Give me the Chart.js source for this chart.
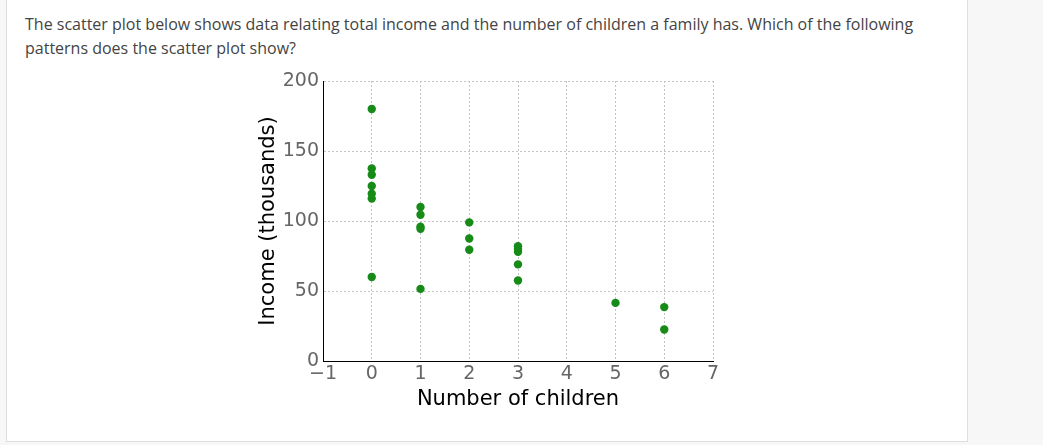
<!DOCTYPE html>
<html>
<head>
<meta charset="utf-8">
<script src="https://cdn.jsdelivr.net/npm/chart.js@4/dist/chart.umd.min.js"></script>
<style>
    html, body {
        margin: 0;
        padding: 0;
        background: #f7f7f7;
        width: 1043px;
        height: 445px;
        overflow: hidden;
    }
    .panel {
        position: absolute;
        left: 6px;
        top: -1px;
        width: 960px;
        height: 441px;
        background: #fff;
        border: 1px solid #dedede;
    }
    .question {
        position: absolute;
        left: 18px;
        top: 12px;
        font-family: "Open Sans", sans-serif;
        font-size: 16px;
        line-height: 24px;
        color: #444;
        white-space: nowrap;
    }
    .chart-box {
        position: absolute;
        left: 240px;
        top: 60px;
        width: 500px;
        height: 360px;
    }
</style>
</head>
<body>
<div class="panel">
    <div class="question">The scatter plot below shows data relating total income and the number of children a family has. Which of the following<br>patterns does the scatter plot show?</div>
</div>
<div class="chart-box"><canvas id="scatterChart" width="500" height="360"></canvas></div>

<script>
// values
const children = [0, 0, 0, 0, 0, 0, 0, 1, 1, 1, 1, 1, 2, 2, 2, 3, 3, 3, 3, 3, 5, 6, 6];
const income = [180, 137.5, 133, 125, 119.5, 116, 60, 110, 104.5, 96, 94.5, 51.5, 99, 87.5, 79.5, 82, 80, 78, 69, 57.5, 41.5, 38.5, 22.5];

const xTicks = [-1, 0, 1, 2, 3, 4, 5, 6, 7];
const yTicks = [0, 50, 100, 150, 200];

const points = children.map((c, i) => ({ x: c, y: income[i] }));

const gridStyle = {
    color: '#c4c4c4',
    lineWidth: 1,
    drawTicks: false
};

// dotted grid lines, solid black axis lines
const borderStyle = {
    display: true,
    color: '#000',
    width: 1,
    dash: [2, 2]
};

new Chart(document.getElementById('scatterChart').getContext('2d'), {
    type: 'scatter',
    data: {
        datasets: [{
            label: 'Families',
            data: points,
            backgroundColor: '#178b17',
            borderColor: '#178b17',
            pointRadius: 4.2,
            borderWidth: 0
        }]
    },
    options: {
        responsive: false,
        animation: false,
        layout: {
            padding: { top: 21, right: 27, bottom: 0, left: 0 }
        },
        plugins: {
            legend: { display: false },
            tooltip: { enabled: false }
        },
        scales: {
            x: {
                type: 'linear',
                min: xTicks[0],
                max: xTicks[xTicks.length - 1],
                afterBuildTicks: scale => {
                    scale.ticks = xTicks.map(v => ({ value: v }));
                },
                afterFit: scale => {
                    scale.height = 59;
                },
                ticks: {
                    padding: 2,
                    color: '#666',
                    font: { family: 'DejaVu Sans', size: 19 },
                    callback: v => (v < 0 ? '\u2212' + Math.abs(v) : String(v))
                },
                grid: gridStyle,
                border: borderStyle,
                title: {
                    display: true,
                    text: 'Number of children',
                    color: '#000',
                    font: { family: 'DejaVu Sans', size: 21 },
                    padding: { top: 0, bottom: 8 }
                }
            },
            y: {
                type: 'linear',
                min: yTicks[0],
                max: yTicks[yTicks.length - 1],
                afterBuildTicks: scale => {
                    scale.ticks = yTicks.map(v => ({ value: v }));
                },
                afterFit: scale => {
                    scale.width = 83;
                },
                ticks: {
                    padding: 4,
                    color: '#666',
                    font: { family: 'DejaVu Sans', size: 19 }
                },
                grid: gridStyle,
                border: borderStyle,
                title: {
                    display: true,
                    text: 'Income (thousands)',
                    color: '#000',
                    font: { family: 'DejaVu Sans', size: 21 },
                    padding: { top: 16, bottom: 0 }
                }
            }
        }
    }
});
</script>
</body>
</html>
